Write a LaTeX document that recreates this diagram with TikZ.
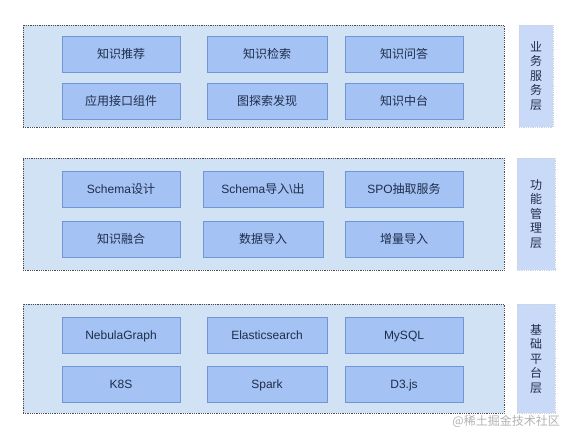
\documentclass[tikz,border=0pt]{standalone}
\usepackage{fontspec}
\setmainfont{Liberation Sans}
\newfontfamily\cjk{Noto Sans CJK SC}
\definecolor{layerFill}{HTML}{D0E2F3}
\definecolor{boxFill}{HTML}{A4C2F4}
\definecolor{boxLine}{HTML}{7096D6}
\definecolor{sideFill}{HTML}{C9DAF8}
\definecolor{textNavy}{HTML}{1F2D4A}
\newcommand{\zh}[1]{{\cjk #1}}

\begin{document}
\begin{tikzpicture}[x=1pt, y=-1pt,
    layerbox/.style={draw=black!70, line width=0.6pt, dash pattern=on 0.8pt off 1pt, fill=layerFill, minimum width=481pt, inner sep=0pt},
    itembox/.style={draw=boxLine, fill=boxFill, minimum height=36pt, inner sep=0pt, text height=8.6pt, text depth=0pt, text=textNavy, font=\fontsize{12}{14}\selectfont},
    sidebox/.style={draw=sideFill!60!gray!60, line width=0.6pt, dash pattern=on 0.8pt off 1pt, fill=sideFill, inner sep=0pt, text=textNavy, align=center, font=\fontsize{12}{14.5}\selectfont\cjk}]
    \useasboundingbox (0,0) rectangle (572,440);
    % layers
    \node[layerbox, minimum height=102pt] (serviceLayer) at (263.5,76) {};
    \node[layerbox, minimum height=112pt] (functionLayer) at (263.5,214) {};
    \node[layerbox, minimum height=109pt] (baseLayer) at (263.5,358.5) {};
    % side labels
    \node[sidebox, minimum width=34pt, minimum height=102pt] (serviceLabel) at (536,76) {业\\务\\服\\务\\层};
    \node[sidebox, minimum width=38pt, minimum height=112pt] (functionLabel) at (536,214) {功\\能\\管\\理\\层};
    \node[sidebox, minimum width=38pt, minimum height=109pt] (baseLabel) at (536,358.5) {基\\础\\平\\台\\层};
    % service items
    \node[itembox, minimum width=118pt] (recommend) at (121,54) {\zh{知识推荐}};
    \node[itembox, minimum width=120pt] (search) at (267,54) {\zh{知识检索}};
    \node[itembox, minimum width=118pt] (answer) at (404,54) {\zh{知识问答}};
    \node[itembox, minimum width=118pt] (apiParts) at (121,101.5) {\zh{应用接口组件}};
    \node[itembox, minimum width=120pt] (explore) at (267,101.5) {\zh{图探索发现}};
    \node[itembox, minimum width=118pt] (midPlatform) at (404,101.5) {\zh{知识中台}};
    % function items
    \node[itembox, minimum width=118pt] (schemaDesign) at (121,189) {Schema\zh{设计}};
    \node[itembox, minimum width=120pt] (schemaIO) at (263,189) {Schema\zh{导入}\textbackslash\zh{出}};
    \node[itembox, minimum width=118pt] (spoExtract) at (404,189) {SPO\zh{抽取服务}};
    \node[itembox, minimum width=118pt] (fusion) at (121,239.5) {\zh{知识融合}};
    \node[itembox, minimum width=120pt] (dataImport) at (263,239.5) {\zh{数据导入}};
    \node[itembox, minimum width=118pt] (deltaImport) at (404,239.5) {\zh{增量导入}};
    % base items
    \node[itembox, minimum width=118pt] (nebula) at (121,335) {NebulaGraph};
    \node[itembox, minimum width=120pt] (elastic) at (267,335) {Elasticsearch};
    \node[itembox, minimum width=118pt] (mysql) at (404,335) {MySQL};
    \node[itembox, minimum width=118pt] (kube) at (121,384.5) {K8S};
    \node[itembox, minimum width=120pt] (spark) at (267,384.5) {Spark};
    \node[itembox, minimum width=118pt] (dthree) at (404,384.5) {D3.js};
    \node[anchor=east, text=black!30, font=\fontsize{12}{14}\selectfont\cjk, inner sep=0pt] (watermark) at (560,421) {@稀土掘金技术社区};
\end{tikzpicture}
\end{document}
